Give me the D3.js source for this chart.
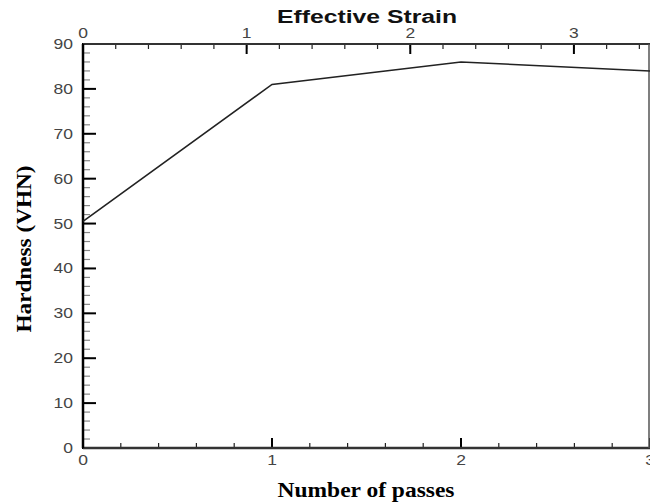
<!DOCTYPE html>
<html>
<head>
<meta charset="utf-8">
<script src="https://cdn.jsdelivr.net/npm/d3@7"></script>
<style>
  body { margin: 0; background: #fff; }
  svg { display: block; }
</style>
</head>
<body>
<svg id="chart" width="650" height="504"></svg>
<script>
// data
var passes = [0, 1, 2, 3];
var hardness = [50.5, 81, 86, 84];
var passTicks = [0, 1, 2, 3];
var strainTicks = [0, 1, 2, 3];
var hardTicks = [0, 10, 20, 30, 40, 50, 60, 70, 80, 90];
var strainPerPass = 1.155; // top axis: effective strain of one ECAP pass

// plot box (window.top is read-only, so no "top" here)
var pL = 83, pR = 650, pT = 44, pB = 448;

var svg = d3.select('#chart');

var x = d3.scaleLinear().domain([0, 3]).range([pL, pR]);
var xs = d3.scaleLinear().domain([0, 3 * strainPerPass]).range([pL, pR]);
var y = d3.scaleLinear().domain([0, 90]).range([pB, pT]);

// minor ticks
var passMinor = d3.range(0, 3.001, 0.2);
var strainMinor = d3.range(0, 3 * strainPerPass, 0.2);
var hardMinor = d3.range(0, 90.001, 2);

var g = svg.append('g');

// bottom axis minor + major (ticks point up, into the plot)
g.selectAll('.bm').data(passMinor).enter().append('line')
  .attr('x1', d => x(d)).attr('x2', d => x(d))
  .attr('y1', pB).attr('y2', pB - 5)
  .attr('stroke', '#222').attr('stroke-width', 1.2);
g.selectAll('.bM').data(passTicks).enter().append('line')
  .attr('x1', d => x(d)).attr('x2', d => x(d))
  .attr('y1', pB + 1).attr('y2', pB - 10)
  .attr('stroke', '#000').attr('stroke-width', 2);

// top axis (ticks point down)
g.selectAll('.tm').data(strainMinor).enter().append('line')
  .attr('x1', d => xs(d)).attr('x2', d => xs(d))
  .attr('y1', pT).attr('y2', pT + 5)
  .attr('stroke', '#222').attr('stroke-width', 1.2);
g.selectAll('.tM').data(strainTicks).enter().append('line')
  .attr('x1', d => xs(d)).attr('x2', d => xs(d))
  .attr('y1', pT - 1).attr('y2', pT + 10)
  .attr('stroke', '#000').attr('stroke-width', 2);

// left axis (ticks point right)
g.selectAll('.lm').data(hardMinor).enter().append('line')
  .attr('x1', pL).attr('x2', pL + 7)
  .attr('y1', d => y(d)).attr('y2', d => y(d))
  .attr('stroke', '#888').attr('stroke-width', 1.2);
g.selectAll('.lM').data(hardTicks).enter().append('line')
  .attr('x1', pL).attr('x2', pL + 13)
  .attr('y1', d => y(d)).attr('y2', d => y(d))
  .attr('stroke', '#000').attr('stroke-width', 2);

// frame
g.append('line').attr('x1', pL).attr('x2', pR).attr('y1', pB).attr('y2', pB)
  .attr('stroke', '#333').attr('stroke-width', 2.5);
g.append('line').attr('x1', pL).attr('x2', pR).attr('y1', pT).attr('y2', pT)
  .attr('stroke', '#333').attr('stroke-width', 2);
g.append('line').attr('x1', pL).attr('x2', pL).attr('y1', pT).attr('y2', pB)
  .attr('stroke', '#000').attr('stroke-width', 2.5);
g.append('line').attr('x1', pR - 1).attr('x2', pR - 1).attr('y1', pT).attr('y2', pB)
  .attr('stroke', '#555').attr('stroke-width', 1.5);

// the hardness line
var line = d3.line().x((d, i) => x(passes[i])).y(d => y(d));
svg.append('path').datum(hardness)
  .attr('d', line)
  .attr('fill', 'none').attr('stroke', '#222').attr('stroke-width', 1.6);

// tick labels, the original font is a bit wider than Arial
var lab = 'font-family: Arial, "Liberation Sans", sans-serif; font-size: 14px; fill: #444;';
function tickText(sel, tx, ty, anchor) {
  sel.append('text')
    .attr('transform', d => 'translate(' + tx(d) + ',' + ty(d) + ') scale(1.25,1)')
    .attr('text-anchor', anchor).attr('style', lab)
    .text(d => d);
}
tickText(svg.selectAll('.yl').data(hardTicks).enter(), d => pL - 10, d => y(d) + 5, 'end');
tickText(svg.selectAll('.xl').data(passTicks).enter(), d => x(d), d => pB + 17, 'middle');
tickText(svg.selectAll('.sl').data(strainTicks).enter(), d => xs(d), d => pT - 6, 'middle');

// axis titles
svg.append('text').attr('x', 367).attr('y', 23).attr('text-anchor', 'middle')
  .attr('textLength', 180).attr('lengthAdjust', 'spacingAndGlyphs')
  .attr('style', 'font-family: Arial, "Liberation Sans", sans-serif; font-size: 18px; font-weight: bold; fill: #111;')
  .text('Effective Strain');
svg.append('text').attr('x', 366).attr('y', 497).attr('text-anchor', 'middle')
  .attr('textLength', 177).attr('lengthAdjust', 'spacingAndGlyphs')
  .attr('style', 'font-family: "Liberation Serif", "Times New Roman", serif; font-size: 20px; font-weight: bold; fill: #000;')
  .text('Number of passes');
svg.append('text').attr('transform', 'translate(31,249) rotate(-90)').attr('text-anchor', 'middle')
  .attr('textLength', 167).attr('lengthAdjust', 'spacingAndGlyphs')
  .attr('style', 'font-family: "Liberation Serif", "Times New Roman", serif; font-size: 20px; font-weight: bold; fill: #000;')
  .text('Hardness (VHN)');
</script>
</body>
</html>
